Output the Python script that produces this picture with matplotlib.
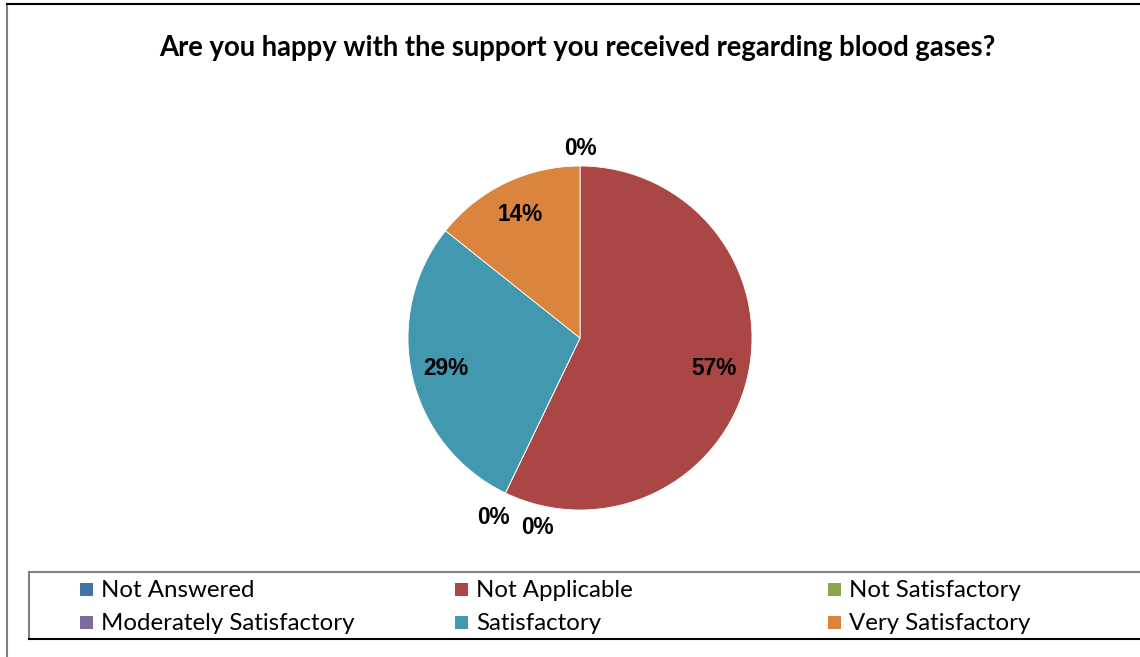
import numpy as np
import matplotlib
matplotlib.use('Agg')
import matplotlib.pyplot as plt
from matplotlib.lines import Line2D
from matplotlib.patches import Rectangle

title = 'Are you happy with the support you received regarding blood gases?'
categories = ['Not Answered', 'Not Applicable', 'Not Satisfactory',
              'Moderately Satisfactory', 'Satisfactory', 'Very Satisfactory']
counts = [0, 4, 0, 0, 2, 1]
colors = ['#4572A7', '#AA4643', '#89A54E', '#80699B', '#4198AF', '#DB843D']

W, H = 1140, 657
fig = plt.figure(figsize=(W / 100, H / 100), dpi=100)

# outer chart border (left + top only, rest is cropped)
fig.add_artist(Line2D([7 / W, 7 / W], [0, 1 - 4 / H], color='#808080', lw=1.5))
fig.add_artist(Line2D([7 / W, 1], [1 - 4 / H, 1 - 4 / H], color='black', lw=1.5))

fig.text(577 / W, 1 - 48 / H, title, ha='center', va='center',
         fontsize=19.8, fontweight='bold', family='Lato')

# pie axes, centre (580, 338) px, radius 172 px
cx, cy, r = 580, 338, 172
ax = fig.add_axes([(cx - r) / W, 1 - (cy + r) / H, 2 * r / W, 2 * r / H])

wedges, texts, autotexts = ax.pie(counts, colors=colors, startangle=90, counterclock=False,
                                  radius=1, autopct='%1.0f%%', pctdistance=0.8,
                                  wedgeprops=dict(edgecolor='white', linewidth=0.6),
                                  textprops=dict(fontsize=16.3, fontweight='bold',
                                                 family='Liberation Sans', color='black'))
ax.set_xlim(-1, 1)
ax.set_ylim(-1, 1)
ax.axis('off')

# zero-value labels sit outside the pie; nudge stacked ones apart
prev_angle = None
for w, t, c in zip(wedges, autotexts, counts):
    t.set_clip_on(False)
    if c == 0:
        ang = w.theta1
        if prev_angle is not None and abs(ang - prev_angle) < 1e-6:
            ang += 13
            rad = 1.13
        else:
            rad = 1.1 if prev_angle is None or w.theta1 > 90 else 1.16
        t.set_position((rad * np.cos(np.radians(ang)), rad * np.sin(np.radians(ang))))
        prev_angle = w.theta1

# legend box
lx0, ly0, ly1 = 29, 572, 639
fig.add_artist(Line2D([lx0 / W, 1], [1 - ly0 / H] * 2, color='#808080', lw=1.5))
fig.add_artist(Line2D([lx0 / W] * 2, [1 - ly0 / H, 1 - ly1 / H], color='#808080', lw=1.5))
fig.add_artist(Line2D([lx0 / W, 1], [1 - ly1 / H] * 2, color='black', lw=1.5))

col_x = [80, 455, 828]
row_y = [589, 622]
sq = 13
for i, (name, col) in enumerate(zip(categories, colors)):
    x = col_x[i % 3]
    y = row_y[i // 3]
    fig.add_artist(Rectangle((x / W, 1 - (y + sq / 2) / H), sq / W, sq / H,
                             facecolor=col, edgecolor='none'))
    fig.text((x + sq + 8) / W, 1 - (y + 1.5) / H, name, ha='left', va='center',
             fontsize=17.3, family='Lato')

fig.savefig('out.png', dpi=100)
